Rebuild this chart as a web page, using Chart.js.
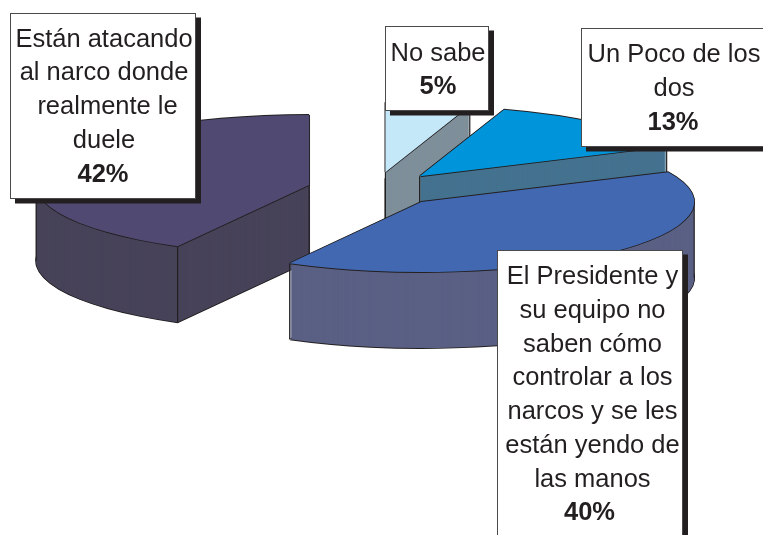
<!DOCTYPE html>
<html lang="es">
<head>
<meta charset="utf-8">
<title>Narco</title>
<style>
  html, body { margin: 0; padding: 0; background: #fff; }
  canvas { display: block; }
</style>
<script src="https://cdn.jsdelivr.net/npm/chart.js@4.4.0/dist/chart.umd.min.js"></script>
</head>
<body>
<canvas id="pie" width="763" height="535"></canvas>
<script>
'use strict';

// Veri — saat yönünde, tepeden başlayarak
const categories = ['No sabe', 'Un Poco de los dos', 'El Presidente y su equipo no saben cómo controlar a los narcos y se les están yendo de las manos', 'Están atacando al narco donde realmente le duele'];
const values     = [5, 13, 40, 42];
const labelLines = [
  ['No sabe'],
  ['Un Poco de los', 'dos'],
  ['El Presidente y', 'su equipo no', 'saben cómo', 'controlar a los', 'narcos y se les', 'están yendo de', 'las manos'],
  ['Están atacando', 'al narco donde', ' realmente le', 'duele'],
];
const topColors  = ['#c5e8f9', '#0095da', '#4168b0', '#504a72'];
const wallColors = ['#7e8f9a', '#44728f', '#5a6084', '#474359'];

// Geometry of the squashed pie, in screen pixels
const PIE_CX  = 374.8;
const PIE_CY  = 189.3;
const PIE_RX  = 273;
const PIE_RY  = 70;
const EXPLODE = 67.8;
const DEPTH   = 76;
const OUTLINE = '#231f20';
const DRAW_ORDER = [3, 0, 1, 2];   // back to front

// Label boxes, same order as the data
const BOXES = [
  { x: 385, y: 26,  w: 104, h: 85,  cx: 438,   pctDx: 0,    base: 60.7,  step: 33.7 },
  { x: 581, y: 28,  w: 200, h: 119, cx: 674,   pctDx: -1,   base: 61.7,  step: 34.1 },
  { x: 497, y: 250, w: 186, h: 320, cx: 592.5, pctDx: -3,   base: 284.3, step: 33.7 },
  { x: 10,  y: 13,  w: 186, h: 186, cx: 104,   pctDx: -1,   base: 46.7,  step: 33.75 },
];

function paintArc(ctx, arc, color, dx, dy) {
  const base = arc.options;
  const sx   = PIE_RX / arc.outerRadius;
  const sy   = PIE_RY / arc.outerRadius;
  const mid  = (arc.startAngle + arc.endAngle) / 2;
  ctx.save();
  ctx.translate(PIE_CX + dx + Math.cos(mid) * EXPLODE, PIE_CY + dy + Math.sin(mid) * EXPLODE * PIE_RY / PIE_RX);
  ctx.scale(sx, sy);
  ctx.translate(-arc.x, -arc.y);
  arc.options = { ...base, backgroundColor: color };
  arc.draw(ctx);
  arc.options = base;
  ctx.restore();
}

// Fake a uniform outline: the scale would squash a normal stroke
function paintOutlined(ctx, arc, color, dy) {
  [[-1, 0], [1, 0], [0, -1], [0, 1]].forEach(([ox, oy]) => {
    paintArc(ctx, arc, OUTLINE, ox * 0.9, dy + oy * 0.9);
  });
  paintArc(ctx, arc, color, 0, dy);
}

// Only the corners of walls that face the viewer get a vertical line
function verticalEdges(ctx, arc) {
  const mid  = (arc.startAngle + arc.endAngle) / 2;
  const tipX = PIE_CX + Math.cos(mid) * EXPLODE;
  const tipY = PIE_CY + Math.sin(mid) * EXPLODE * PIE_RY / PIE_RX;
  const rim  = a => [tipX + Math.cos(a) * PIE_RX, tipY + Math.sin(a) * PIE_RY];
  const startWall = Math.cos(arc.startAngle) < -1e-6;
  const endWall   = Math.cos(arc.endAngle) > 1e-6;
  const pts = [];

  if (startWall || endWall) pts.push([tipX, tipY]);
  if (startWall || Math.sin(arc.startAngle) > 0) pts.push(rim(arc.startAngle));
  if (endWall || Math.sin(arc.endAngle) > 0) pts.push(rim(arc.endAngle));
  // silhouette of the rim, where the slice reaches far left or far right
  [0, Math.PI].forEach(a => {
    if (a > arc.startAngle && a < arc.endAngle) pts.push(rim(a));
  });

  ctx.save();
  ctx.strokeStyle = OUTLINE;
  ctx.lineWidth = 1.2;
  pts.forEach(([x, y]) => {
    ctx.beginPath();
    ctx.moveTo(x, y);
    ctx.lineTo(x, y + DEPTH);
    ctx.stroke();
  });
  ctx.restore();
}

const pie3d = {
  id: 'pie3d',
  beforeDatasetsDraw(chart) {
    const ctx  = chart.ctx;
    const arcs = chart.getDatasetMeta(0).data;
    DRAW_ORDER.forEach(i => {
      const arc = arcs[i];
      paintOutlined(ctx, arc, wallColors[i], DEPTH);
      for (let d = DEPTH - 1; d > 0; d--) paintArc(ctx, arc, wallColors[i], 0, d);
      verticalEdges(ctx, arc);
      paintOutlined(ctx, arc, topColors[i], 0);
    });
    return false;   // slices are already painted
  },
  afterDraw(chart) {
    const ctx = chart.ctx;
    ctx.save();
    ctx.textAlign = 'center';
    ctx.textBaseline = 'alphabetic';
    BOXES.forEach((b, i) => {
      ctx.fillStyle = OUTLINE;
      ctx.fillRect(b.x + 5, b.y + 4.5, b.w, b.h);
      ctx.fillStyle = '#fff';
      ctx.fillRect(b.x, b.y, b.w, b.h);
      ctx.strokeStyle = '#4a4a4a';
      ctx.lineWidth = 1;
      ctx.strokeRect(b.x + 0.5, b.y + 0.5, b.w - 1, b.h - 1);

      ctx.fillStyle = OUTLINE;
      ctx.font = '25.5px "Liberation Sans", Arial, sans-serif';
      labelLines[i].forEach((line, n) => ctx.fillText(line, b.cx, b.base + n * b.step));
      ctx.font = 'bold 25.5px "Liberation Sans", Arial, sans-serif';
      ctx.fillText(values[i] + '%', b.cx + b.pctDx, b.base + labelLines[i].length * b.step);
    });
    ctx.restore();
  },
};

new Chart(document.getElementById('pie'), {
  type: 'pie',
  data: {
    labels: categories,
    datasets: [{
      data:            values,
      backgroundColor: topColors,
      borderWidth:     0,
    }],
  },
  options: {
    responsive: false,
    animation:  false,
    plugins: {
      legend:  { display: false },
      tooltip: { enabled: false },
    },
  },
  plugins: [pie3d],
});
</script>
</body>
</html>
